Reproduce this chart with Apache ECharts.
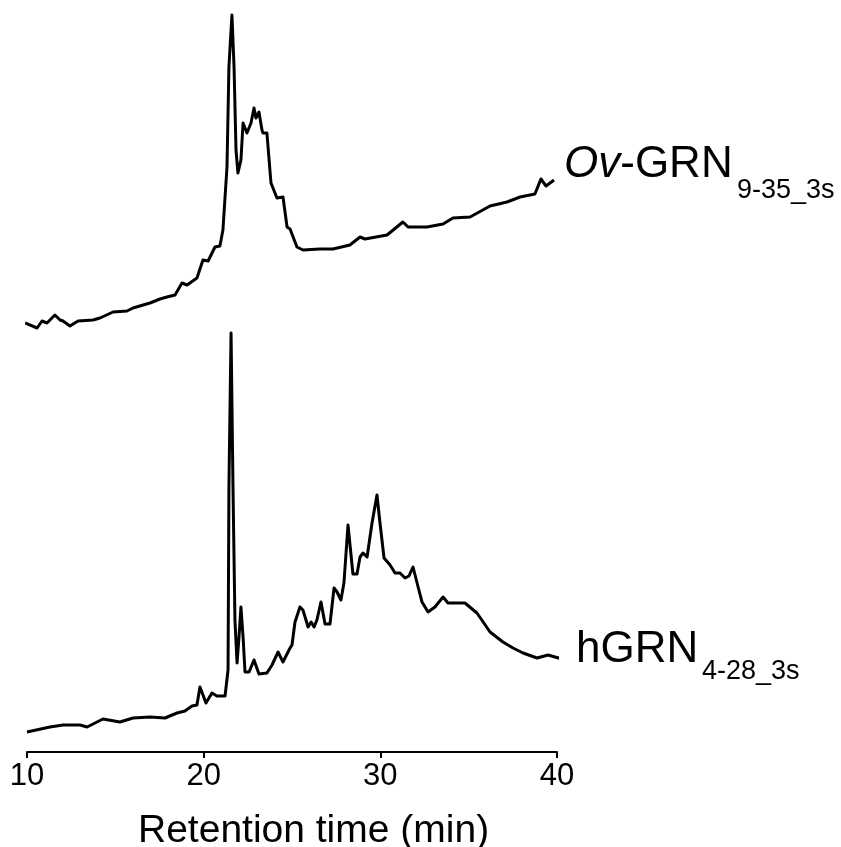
<!DOCTYPE html>
<html>
<head>
<meta charset="utf-8">
<script src="https://cdn.jsdelivr.net/npm/echarts@6/dist/echarts.min.js"></script>
<style>
html,body{margin:0;padding:0;background:#fff;}
#chart{width:841px;height:847px;}
</style>
</head>
<body>
<div id="chart"></div>
<script>
// Retention time (min) and detector response (arbitrary units) for Ov-GRN9-35_3s (upper trace)
const timeOv = [9.89,10.57,10.85,11.13,11.58,11.87,12.04,12.43,12.89,13.74,14.13,14.87,15.66,16.00,16.96,17.53,17.92,18.38,18.77,19.06,19.62,19.96,20.25,20.64,20.92,21.09,21.32,21.43,21.60,21.72,21.83,21.94,22.11,22.23,22.45,22.68,22.85,22.96,23.13,23.30,23.36,23.58,23.81,24.15,24.26,24.49,24.72,24.89,25.28,25.62,26.58,27.32,28.28,28.85,29.13,30.38,31.28,31.57,32.64,33.55,34.11,35.08,36.21,37.17,37.91,38.75,39.09,39.38,39.83];
const signalOv = [7,2,9,7,15,10,9,4,9,10,12,18,19,22,27,31,33,35,47,45,52,70,69,83,84,100,163,263,315,263,180,157,170,207,197,207,222,212,218,200,197,197,147,132,130,133,103,101,83,80,81,81,85,93,91,95,108,103,103,106,112,113,124,128,133,136,151,144,150];

// Retention time (min) and detector response (arbitrary units) for hGRN4-28_3s (lower trace)
const timeH = [10.00,11.30,12.04,13.00,13.40,14.30,15.26,16.00,16.96,17.81,18.49,18.94,19.34,19.62,19.79,20.13,20.47,20.75,21.21,21.38,21.43,21.55,21.66,21.77,21.89,22.00,22.11,22.23,22.34,22.57,22.85,23.13,23.58,23.87,23.98,24.21,24.49,24.89,25.00,25.17,25.45,25.62,25.91,26.08,26.25,26.41,26.64,26.87,27.15,27.38,27.55,27.77,27.94,28.17,28.45,28.68,28.85,29.02,29.25,29.53,29.81,29.98,30.21,30.55,30.83,31.11,31.40,31.62,31.85,32.08,32.36,32.70,33.09,33.55,33.83,34.34,34.79,35.47,36.21,36.94,37.51,38.08,38.87,39.49,40.28];
const signalH = [20,25,27,27,25,33,30,34,35,34,39,41,46,47,65,49,59,56,56,82,265,419,265,132,89,115,145,115,80,80,92,78,79,87,85,100,90,104,107,130,145,142,125,130,125,132,150,128,128,164,160,152,169,227,178,178,195,199,195,229,257,229,194,187,179,179,174,176,185,169,150,140,145,155,149,149,149,139,120,110,104,99,94,97,93];

const xTicks = [10, 20, 30, 40];
const axisTitle = 'Retention time (min)';
const labelOv = { italic: 'Ov', main: '-GRN', sub: '9-35_3s' };
const labelH = { main: 'hGRN', sub: '4-28_3s' };

const FONT = '"Liberation Sans", Arial, Helvetica, sans-serif';
const chart = echarts.init(document.getElementById('chart'), null, { renderer: 'canvas' });

function pairs(t, v) { return t.map((x, i) => [x, v[i]]); }

const option = {
  animation: false,
  backgroundColor: '#fff',
  grid: [
    { left: 27, right: 284, top: 15, bottom: 517 },
    { left: 27, right: 284, top: 333, bottom: 95 }
  ],
  xAxis: [
    { gridIndex: 0, type: 'value', min: xTicks[0], max: xTicks[xTicks.length - 1], interval: 10, show: false },
    {
      gridIndex: 1, type: 'value', min: xTicks[0], max: xTicks[xTicks.length - 1], interval: 10,
      axisLine: { show: true, lineStyle: { color: '#000', width: 2 } },
      axisTick: { show: true, length: 6, lineStyle: { color: '#000', width: 2 } },
      splitLine: { show: false },
      axisLabel: { color: '#000', fontSize: 31, fontFamily: FONT, margin: 9 }
    }
  ],
  yAxis: [
    { gridIndex: 0, type: 'value', min: 0, max: 315, show: false },
    { gridIndex: 1, type: 'value', min: 0, max: 419, show: false }
  ],
  series: [
    {
      name: 'Ov-GRN9-35_3s', type: 'line', xAxisIndex: 0, yAxisIndex: 0,
      data: pairs(timeOv, signalOv), showSymbol: false, clip: false,
      lineStyle: { color: '#000', width: 3, join: 'round' }
    },
    {
      name: 'hGRN4-28_3s', type: 'line', xAxisIndex: 1, yAxisIndex: 1,
      data: pairs(timeH, signalH), showSymbol: false, clip: false,
      lineStyle: { color: '#000', width: 3, join: 'round' }
    }
  ],
  graphic: [
    {
      type: 'text', left: 564, top: 143,
      style: { text: '{i|' + labelOv.italic + '}' + labelOv.main, font: '44px ' + FONT, fill: '#000',
        rich: { i: { fontStyle: 'italic', fontSize: 44, fontFamily: FONT } } }
    },
    {
      type: 'text', left: 737, top: 177,
      style: { text: labelOv.sub, font: '27px ' + FONT, fill: '#000' }
    },
    {
      type: 'text', left: 576, top: 628,
      style: { text: labelH.main, font: '44px ' + FONT, fill: '#000' }
    },
    {
      type: 'text', left: 702, top: 658,
      style: { text: labelH.sub, font: '27px ' + FONT, fill: '#000' }
    },
    {
      type: 'text', left: 138, top: 812,
      style: { text: axisTitle, font: '39px ' + FONT, fill: '#000' }
    }
  ]
};
chart.setOption(option);
</script>
</body>
</html>
